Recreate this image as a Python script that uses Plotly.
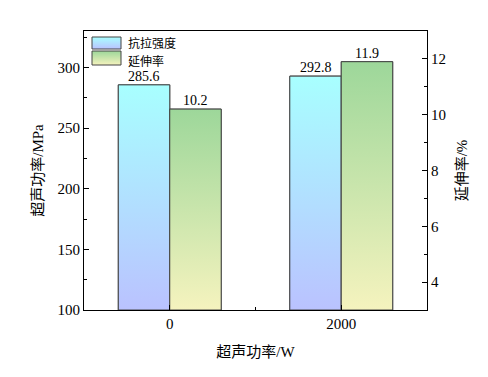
import plotly.graph_objects as go

categories = ["0", "2000"]
tensile = [285.6, 292.8]      # 抗拉强度 (MPa), left axis
elong = [10.2, 11.9]          # 延伸率 (%), right axis
series_names = ["抗拉强度", "延伸率"]

x_pos = list(range(len(categories)))
bar_w = 0.3
y_base = 100
y2_base = 3

blue_cs = [[0, "#BAC2FF"], [1, "#A8FFFF"]]
green_cs = [[0, "#F5F3BE"], [1, "#9DD79A"]]

serif = "Times New Roman, Liberation Serif, serif"
cjk = "Times New Roman, Liberation Serif, Noto Sans CJK SC"
edge = "#444444"

fig = go.Figure()

series = [
    (tensile, -bar_w, y_base, "y", blue_cs),
    (elong, 0.0, y2_base, "y2", green_cs),
]

# gradient fills for each bar
for vals, offset, base, yaxis, cs in series:
    for x, v in zip(x_pos, vals):
        x0 = x + offset
        x1 = x0 + bar_w
        fig.add_trace(go.Scatter(
            x=[x0, x1, x1, x0, x0], y=[base, base, v, v, base], yaxis=yaxis,
            mode="lines", fill="toself", line=dict(color=edge, width=1),
            fillgradient=dict(type="vertical", colorscale=cs, start=base, stop=v),
            showlegend=False, hoverinfo="skip",
        ))

# bar outlines
for (vals, offset, base, yaxis, cs), name in zip(series, series_names):
    fig.add_trace(go.Bar(
        x=x_pos, y=[v - base for v in vals], width=bar_w, offset=offset, base=base,
        marker=dict(color="rgba(0,0,0,0)", line=dict(color=edge, width=1)),
        showlegend=False, yaxis=yaxis, name=name, hoverinfo="skip",
    ))
    # value labels just above each bar
    for x, v in zip(x_pos, vals):
        fig.add_annotation(
            x=x + offset + bar_w / 2, y=v, xref="x", yref=yaxis,
            text=f"{v:.1f}", showarrow=False, xanchor="center", yanchor="bottom",
            borderpad=0, font=dict(family=serif, size=14, color="black"),
        )

# custom legend (swatches drawn on a hidden pixel-scaled overlay axis)
plot_w, plot_h = 343, 279
legend_swatches = [(8, 37, 261, 273, blue_cs), (8, 37, 245, 259, green_cs)]
for (x0, x1, y0, y1, cs) in legend_swatches:
    fig.add_trace(go.Scatter(
        x=[x0, x1, x1, x0, x0], y=[y0, y0, y1, y1, y0], xaxis="x3", yaxis="y3",
        mode="lines", fill="toself", line=dict(color=edge, width=1),
        fillgradient=dict(type="vertical", colorscale=cs, start=y0, stop=y1),
        showlegend=False, hoverinfo="skip",
    ))
for name, ty in zip(series_names, [268, 250]):
    fig.add_annotation(
        x=43, y=ty, xref="x3", yref="y3", text=name, showarrow=False,
        xanchor="left", yanchor="middle", borderpad=0,
        font=dict(family="Noto Sans CJK SC", size=12, color="black"),
    )

# page body has an 8px default margin: size the figure so the plot area lands
# at x 84..427, y 31..310 of the 488x377 window without overflowing it
fig.update_layout(
    width=472, height=361,
    margin=dict(l=76, r=53, t=23, b=59, autoexpand=False),
    paper_bgcolor="white", plot_bgcolor="white",
    barmode="overlay",
    font=dict(family=serif, size=14, color="black"),
    xaxis=dict(
        range=[-0.5, 1.5], tickvals=x_pos, ticktext=categories,
        showline=True, linecolor="black", linewidth=1, mirror=True,
        ticks="inside", ticklen=5, tickcolor="black",
        minor=dict(tickvals=[0.5], ticks="inside", ticklen=3, tickcolor="black"),
        showgrid=False, zeroline=False, automargin=False,
        title=dict(text="超声功率/W", font=dict(family=cjk, size=15), standoff=15),
        tickfont=dict(family=serif, size=15),
    ),
    yaxis=dict(
        range=[100, 330], tickvals=[100, 150, 200, 250, 300],
        showline=True, linecolor="black", linewidth=1,
        ticks="inside", ticklen=5, tickcolor="black",
        minor=dict(tickvals=[125, 175, 225, 275, 325], ticks="inside", ticklen=3, tickcolor="black"),
        showgrid=False, zeroline=False, automargin=False,
        title=dict(text="超声功率/MPa", font=dict(family=cjk, size=15), standoff=10),
        tickfont=dict(family=serif, size=15),
    ),
    yaxis2=dict(
        range=[3, 13], tickvals=[4, 6, 8, 10, 12], overlaying="y", side="right",
        showline=True, linecolor="black", linewidth=1,
        ticks="inside", ticklen=5, tickcolor="black",
        minor=dict(tickvals=[5, 7, 9, 11], ticks="inside", ticklen=3, tickcolor="black"),
        showgrid=False, zeroline=False, automargin=False,
        title=dict(text="延伸率/%", font=dict(family=cjk, size=15), standoff=11),
        tickfont=dict(family=serif, size=15),
    ),
    xaxis3=dict(range=[0, plot_w], overlaying="x", visible=False, fixedrange=True),
    yaxis3=dict(range=[0, plot_h], overlaying="y", visible=False, fixedrange=True),
    showlegend=False,
)

fig.write_html("out.html")
